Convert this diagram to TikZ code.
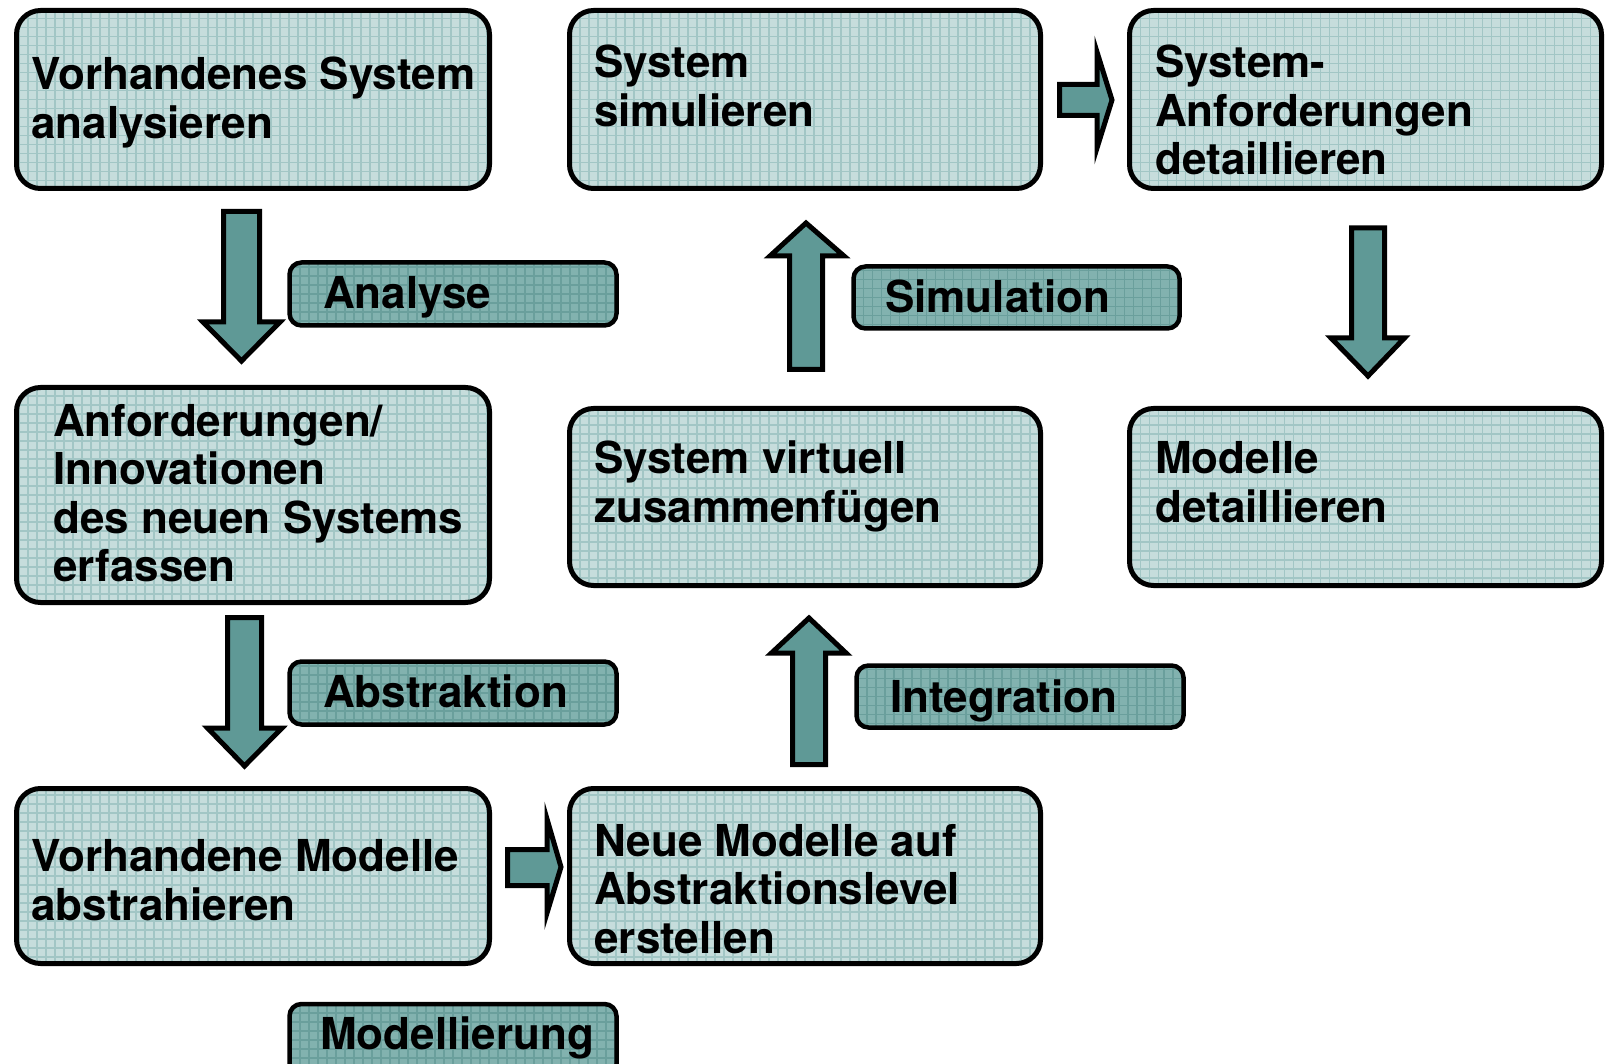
\documentclass[tikz,border=0pt]{standalone}
\usepackage{fontspec}
\setmainfont{TeX Gyre Heros}
\definecolor{boxfill}{HTML}{C6DDDC}
\definecolor{boxgrid}{HTML}{A2C6C5}
\definecolor{tagfill}{HTML}{82B2AF}
\definecolor{taggrid}{HTML}{6A9F9C}
\definecolor{arrowfill}{HTML}{5F9996}
\tikzset{
  gridfill/.style={path picture={\draw[#1, line width=1.1pt]
      (path picture bounding box.south west) grid[step=9pt]
      (path picture bounding box.north east);}},
  stepbox/.style={draw=black, line width=5pt, rounded corners=24pt,
      fill=boxfill, gridfill=boxgrid, inner sep=0pt},
  tagbox/.style={draw=black, line width=4.5pt, rounded corners=12pt,
      fill=tagfill, gridfill=taggrid, inner sep=0pt,
      minimum width=327pt, minimum height=63pt},
  % anchored at the baseline of the last line of the text
  boxtext/.style={anchor=base west, inner sep=0pt, align=left,
      font=\fontsize{44}{48.5}\selectfont\bfseries},
  blockarrow/.style={draw=black, line width=5pt, line join=miter,
      fill=arrowfill},
}
\begin{document}
\begin{tikzpicture}[x=1pt, y=-1pt]
\useasboundingbox (0,0) rectangle (1607,1064);

% process steps
\node[stepbox, minimum width=473pt, minimum height=178pt] (analyse) at (253,99.5) {};
\node[stepbox, minimum width=473pt, minimum height=215pt] (anford) at (253,495) {};
\node[stepbox, minimum width=473pt, minimum height=175pt] (abstr) at (253,876) {};
\node[stepbox, minimum width=471pt, minimum height=175pt] (neu) at (805,876) {};
\node[stepbox, minimum width=471pt, minimum height=177pt] (virt) at (805,497) {};
\node[stepbox, minimum width=471pt, minimum height=178pt] (sim) at (805,99.5) {};
\node[stepbox, minimum width=472pt, minimum height=178pt] (sysanf) at (1365.5,99.5) {};
\node[stepbox, minimum width=472pt, minimum height=177pt] (moddet) at (1365.5,497) {};

\node[boxtext] (tanalyse) at (31,138.5) {Vorhandenes System\\analysieren};
\node[boxtext] (tanford) at (53,581.5) {Anforderungen/\\Innovationen\\des neuen Systems\\erfassen};
\node[boxtext] (tabstr) at (31,920) {Vorhandene Modelle\\abstrahieren};
\node[boxtext] (tneu) at (594,953) {Neue Modelle auf\\Abstraktionslevel\\erstellen};
\node[boxtext] (tvirt) at (594,522) {System virtuell\\zusammenfügen};
\node[boxtext] (tsim) at (594,126.5) {System\\simulieren};
\node[boxtext] (tsysanf) at (1155,175) {System-\\Anforderungen\\detaillieren};
\node[boxtext] (tmoddet) at (1155,522) {Modelle\\detaillieren};

% phase labels
\node[tagbox] (lanalyse) at (453,294) {};
\node[tagbox] (labstr) at (453,693) {};
\node[tagbox, minimum height=72pt] (lmodell) at (453,1040) {};
\node[tagbox, minimum width=326pt, minimum height=62pt] (lsim) at (1016.5,297.5) {};
\node[tagbox, minimum width=327pt, minimum height=62pt] (lint) at (1020,696.5) {};

\node[boxtext] (tlanalyse) at (323,309) {Analyse};
\node[boxtext] (tlabstr) at (323,707) {Abstraktion};
\node[boxtext] (tlmodell) at (320,1049) {Modellierung};
\node[boxtext] (tlsim) at (885,313) {Simulation};
\node[boxtext] (tlint) at (890,712) {Integration};

% block arrows between the steps
\draw[blockarrow] (223.5,211.5) -- (259.5,211.5) -- (259.5,322) -- (280,322)
  -- (241.5,361) -- (203,322) -- (223.5,322) -- cycle;
\draw[blockarrow] (227.5,617.5) -- (261.5,617.5) -- (261.5,728) -- (282,728)
  -- (244.5,766) -- (207.5,728) -- (227.5,728) -- cycle;
\draw[blockarrow] (507.5,849.5) -- (547,849.5) -- (547,819) -- (561,867)
  -- (547,913) -- (547,885.5) -- (507.5,885.5) -- cycle;
\draw[blockarrow] (792.5,764.5) -- (825.5,764.5) -- (825.5,653) -- (846,653)
  -- (809,618) -- (771.5,653) -- (792.5,653) -- cycle;
\draw[blockarrow] (789.5,369.5) -- (822.5,369.5) -- (822.5,256) -- (844,256)
  -- (806,223) -- (770,256) -- (789.5,256) -- cycle;
\draw[blockarrow] (1059.5,84.5) -- (1097,84.5) -- (1097,52) -- (1112,100)
  -- (1097,148) -- (1097,115.5) -- (1059.5,115.5) -- cycle;
\draw[blockarrow] (1351.5,228) -- (1384.5,228) -- (1384.5,338) -- (1404.5,338)
  -- (1368,376) -- (1331,338) -- (1351.5,338) -- cycle;
\end{tikzpicture}
\end{document}
